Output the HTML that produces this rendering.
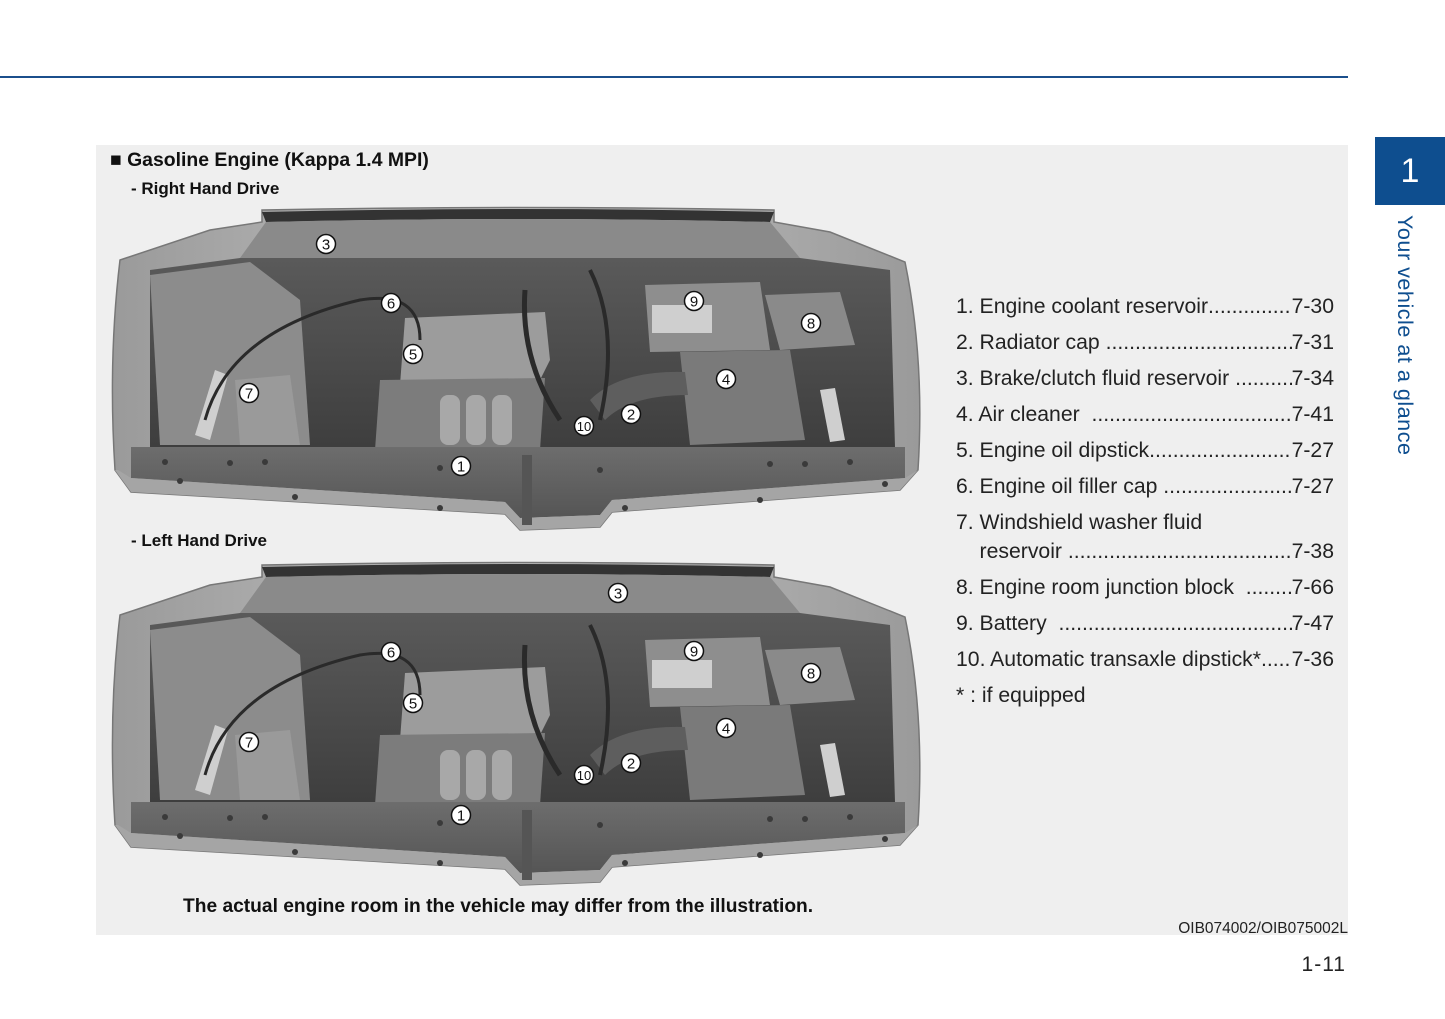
<!DOCTYPE html>
<html><head><meta charset="utf-8">
<style>
html,body{margin:0;padding:0;background:#fff;}
body{width:1445px;height:1019px;position:relative;overflow:hidden;font-family:"Liberation Sans",Arial,sans-serif;}
.topline{position:absolute;left:0;top:76px;width:1348px;height:2px;background:#1b4f8c;}
.panel{position:absolute;left:96px;top:145px;width:1252px;height:790px;background:#efefef;}
.tab{position:absolute;left:1375px;top:137px;width:70px;height:68px;background:#0e4e8f;color:#fff;font-size:34px;line-height:68px;text-align:center;}
.vert{position:absolute;left:1388px;top:215px;width:30px;height:245px;}
.vert span{position:absolute;left:0;top:0;transform-origin:0 0;transform:translate(30px,0) rotate(90deg);white-space:nowrap;color:#0e4e8f;font-size:21.6px;letter-spacing:0.5px;}
.h{position:absolute;font-weight:bold;color:#111;white-space:nowrap;}
.list{position:absolute;left:956px;width:378px;font-size:21.2px;color:#222;}
.row{position:absolute;left:0;width:378px;display:flex;white-space:nowrap;height:26px;line-height:26px;}
.row .d{flex:1;overflow:hidden;}
.row .d::before{content:"................................................................................................";}
.pg{position:absolute;right:99px;top:953px;font-size:21px;color:#222;letter-spacing:1px;}
.code{position:absolute;right:97px;top:920px;font-size:15.5px;color:#222;}
</style></head><body>
<div class="topline"></div>
<div class="panel"></div>
<div class="tab">1</div>
<div class="vert"><span>Your vehicle at a glance</span></div>

<div class="h" style="left:110px;top:149px;font-size:19.4px;">■ Gasoline Engine (Kappa 1.4 MPI)</div>
<div class="h" style="left:131px;top:179px;font-size:17px;">- Right Hand Drive</div>
<div class="h" style="left:131px;top:531px;font-size:17px;">- Left Hand Drive</div>
<div class="h" style="left:183px;top:896px;font-size:19.2px;">The actual engine room in the vehicle may differ from the illustration.</div>

<svg width="1445" height="1019" style="position:absolute;left:0;top:0" xmlns="http://www.w3.org/2000/svg">
<defs>
<linearGradient id="bay" x1="0" y1="0" x2="0" y2="1">
<stop offset="0" stop-color="#5a5a5a"/><stop offset="1" stop-color="#3e3e3e"/></linearGradient>
<linearGradient id="band" x1="0" y1="0" x2="0" y2="1">
<stop offset="0" stop-color="#6d6d6d"/><stop offset="1" stop-color="#555"/></linearGradient>
<linearGradient id="fender" x1="0" y1="0" x2="1" y2="0">
<stop offset="0" stop-color="#9a9a9a"/><stop offset="0.5" stop-color="#c4c4c4"/><stop offset="1" stop-color="#9a9a9a"/></linearGradient>
<g id="eng">
 <path d="M120,260 L210,230 L262,222 L262,210 Q520,205 774,210 L774,222 L830,232 L905,262 Q925,360 918,470 L900,490 L612,512 L600,527 L520,530 L505,514 L131,492 L115,470 Q108,360 120,260 Z" fill="url(#fender)" stroke="#777" stroke-width="1.5"/>
 <path d="M262,212 Q520,206 774,212 L770,222 Q520,216 266,222 Z" fill="#333"/>
 <path d="M266,222 Q520,216 770,222 L800,258 L240,258 Z" fill="#8a8a8a"/>
 <path d="M150,270 L240,258 L800,258 L890,270 L895,447 L150,447 Z" fill="url(#bay)"/>
 <path d="M150,275 L250,262 L300,300 L310,445 L160,445 Z" fill="#8c8c8c"/>
 <path d="M405,318 L545,312 L550,360 L540,380 L400,385 Z" fill="#9c9c9c"/>
 <path d="M380,380 L545,378 L540,450 L375,450 Z" fill="#7c7c7c"/>
 <rect x="440" y="395" width="20" height="50" rx="8" fill="#a8a8a8"/>
 <rect x="466" y="395" width="20" height="50" rx="8" fill="#a8a8a8"/>
 <rect x="492" y="395" width="20" height="50" rx="8" fill="#a8a8a8"/>
 <path d="M645,285 L760,282 L770,350 L650,352 Z" fill="#8e8e8e"/>
 <rect x="652" y="305" width="60" height="28" fill="#cfcfcf"/>
 <path d="M765,295 L840,292 L855,345 L780,350 Z" fill="#8a8a8a"/>
 <path d="M680,352 L790,350 L805,440 L690,445 Z" fill="#7a7a7a"/>
 <path d="M590,400 Q620,370 685,372 L688,395 Q630,395 605,420 Z" fill="#5e5e5e"/>
 <path d="M195,435 L215,370 L228,375 L210,440 Z" fill="#cfcfcf"/>
 <path d="M820,390 L835,388 L845,440 L830,442 Z" fill="#cfcfcf"/>
 <path d="M235,380 L290,375 L300,445 L240,445 Z" fill="#9a9a9a"/>
 <path d="M205,420 Q230,330 360,300 Q420,290 420,340" fill="none" stroke="#2a2a2a" stroke-width="3"/>
 <path d="M525,290 Q520,360 560,420" fill="none" stroke="#2a2a2a" stroke-width="5"/>
 <path d="M590,270 Q620,330 600,420" fill="none" stroke="#2a2a2a" stroke-width="4"/>
 <path d="M131,447 L905,447 L905,478 L612,500 L600,515 L520,518 L505,502 L131,478 Z" fill="url(#band)"/>
 <path d="M118,470 L131,478 L505,502 L520,518 L600,515 L612,500 L905,478 L918,470 L900,490 L612,512 L600,527 L520,530 L505,514 L131,492 L115,470 Z" fill="#a5a5a5"/>
 <g fill="#3a3a3a">
  <circle cx="165" cy="462" r="3"/><circle cx="230" cy="463" r="3"/><circle cx="265" cy="462" r="3"/><circle cx="440" cy="468" r="3"/><circle cx="600" cy="470" r="3"/><circle cx="770" cy="464" r="3"/><circle cx="805" cy="464" r="3"/><circle cx="850" cy="462" r="3"/>
  <circle cx="180" cy="481" r="3"/><circle cx="295" cy="497" r="3"/><circle cx="440" cy="508" r="3"/><circle cx="625" cy="508" r="3"/><circle cx="760" cy="500" r="3"/><circle cx="885" cy="484" r="3"/>
 </g>
 <rect x="522" y="455" width="10" height="70" fill="#555"/>
</g>
</defs>
<use href="#eng"/>
<use href="#eng" transform="translate(0,355)"/>
<g font-family="Liberation Sans, Arial, sans-serif" font-size="15" text-anchor="middle" fill="#111">
 <g><circle cx="326" cy="244" r="9.5" fill="#fff" stroke="#111" stroke-width="1.5"/><text x="326" y="249.5">3</text></g>
 <g><circle cx="391" cy="303" r="9.5" fill="#fff" stroke="#111" stroke-width="1.5"/><text x="391" y="308.5">6</text></g>
 <g><circle cx="413" cy="354" r="9.5" fill="#fff" stroke="#111" stroke-width="1.5"/><text x="413" y="359.5">5</text></g>
 <g><circle cx="249" cy="393" r="9.5" fill="#fff" stroke="#111" stroke-width="1.5"/><text x="249" y="398.5">7</text></g>
 <g><circle cx="694" cy="301" r="9.5" fill="#fff" stroke="#111" stroke-width="1.5"/><text x="694" y="306.5">9</text></g>
 <g><circle cx="811" cy="323" r="9.5" fill="#fff" stroke="#111" stroke-width="1.5"/><text x="811" y="328.5">8</text></g>
 <g><circle cx="726" cy="379" r="9.5" fill="#fff" stroke="#111" stroke-width="1.5"/><text x="726" y="384.5">4</text></g>
 <g><circle cx="631" cy="414" r="9.5" fill="#fff" stroke="#111" stroke-width="1.5"/><text x="631" y="419.5">2</text></g>
 <g><circle cx="584" cy="426" r="9.5" fill="#fff" stroke="#111" stroke-width="1.5"/><text x="584" y="431" font-size="13">10</text></g>
 <g><circle cx="461" cy="466" r="9.5" fill="#fff" stroke="#111" stroke-width="1.5"/><text x="461" y="471.5">1</text></g>

 <g><circle cx="618" cy="593" r="9.5" fill="#fff" stroke="#111" stroke-width="1.5"/><text x="618" y="598.5">3</text></g>
 <g><circle cx="391" cy="652" r="9.5" fill="#fff" stroke="#111" stroke-width="1.5"/><text x="391" y="657.5">6</text></g>
 <g><circle cx="413" cy="703" r="9.5" fill="#fff" stroke="#111" stroke-width="1.5"/><text x="413" y="708.5">5</text></g>
 <g><circle cx="249" cy="742" r="9.5" fill="#fff" stroke="#111" stroke-width="1.5"/><text x="249" y="747.5">7</text></g>
 <g><circle cx="694" cy="651" r="9.5" fill="#fff" stroke="#111" stroke-width="1.5"/><text x="694" y="656.5">9</text></g>
 <g><circle cx="811" cy="673" r="9.5" fill="#fff" stroke="#111" stroke-width="1.5"/><text x="811" y="678.5">8</text></g>
 <g><circle cx="726" cy="728" r="9.5" fill="#fff" stroke="#111" stroke-width="1.5"/><text x="726" y="733.5">4</text></g>
 <g><circle cx="631" cy="763" r="9.5" fill="#fff" stroke="#111" stroke-width="1.5"/><text x="631" y="768.5">2</text></g>
 <g><circle cx="584" cy="775" r="9.5" fill="#fff" stroke="#111" stroke-width="1.5"/><text x="584" y="780" font-size="13">10</text></g>
 <g><circle cx="461" cy="815" r="9.5" fill="#fff" stroke="#111" stroke-width="1.5"/><text x="461" y="820.5">1</text></g>
</g>
</svg>

<div class="list" style="top:0;">
 <div class="row" style="top:294px;"><span>1. Engine coolant reservoir</span><span class="d"></span><span>7-30</span></div>
 <div class="row" style="top:330px;"><span>2. Radiator cap&nbsp;</span><span class="d"></span><span>7-31</span></div>
 <div class="row" style="top:366px;"><span>3. Brake/clutch fluid reservoir&nbsp;</span><span class="d"></span><span>7-34</span></div>
 <div class="row" style="top:402px;"><span>4. Air cleaner &nbsp;</span><span class="d"></span><span>7-41</span></div>
 <div class="row" style="top:438px;"><span>5. Engine oil dipstick</span><span class="d"></span><span>7-27</span></div>
 <div class="row" style="top:474px;"><span>6. Engine oil filler cap&nbsp;</span><span class="d"></span><span>7-27</span></div>
 <div class="row" style="top:510px;"><span>7. Windshield washer fluid</span></div>
 <div class="row" style="top:539px;"><span>&nbsp;&nbsp;&nbsp; reservoir&nbsp;</span><span class="d"></span><span>7-38</span></div>
 <div class="row" style="top:575px;"><span>8. Engine room junction block &nbsp;</span><span class="d"></span><span>7-66</span></div>
 <div class="row" style="top:611px;"><span>9. Battery &nbsp;</span><span class="d"></span><span>7-47</span></div>
 <div class="row" style="top:647px;"><span>10. Automatic transaxle dipstick* </span><span class="d"></span><span>7-36</span></div>
 <div class="row" style="top:683px;"><span>* : if equipped</span></div>
</div>

<div class="code">OIB074002/OIB075002L</div>
<div class="pg">1-11</div>
</body></html>
